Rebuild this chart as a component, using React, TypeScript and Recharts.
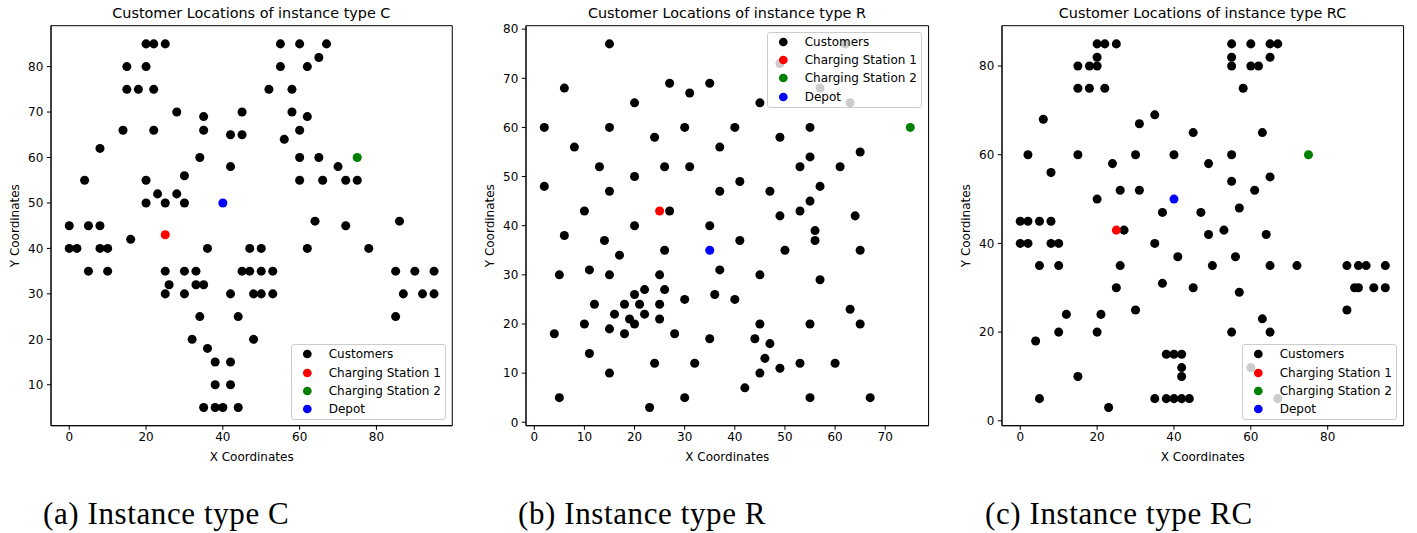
import React from 'react';
import { ScatterChart, Scatter, XAxis, YAxis, ZAxis, ReferenceArea, Legend } from 'recharts';

type Pt = [number, number];

// Customer coordinates, instance type C (clustered)
const typeCCustomers: Pt[] = [
  [20, 85], [22, 85], [25, 85], [15, 80], [20, 80], [15, 75], [18, 75], [22, 75],
  [28, 70], [35, 69], [14, 66], [22, 66], [35, 66], [42, 65], [45, 65], [45, 70],
  [8, 62], [34, 60], [42, 58], [4, 55], [20, 55], [30, 56], [23, 52], [28, 52],
  [20, 50], [25, 50], [30, 50], [0, 45], [5, 45], [8, 45],
  [55, 85], [60, 85], [67, 85], [65, 82], [55, 80], [62, 80], [52, 75], [58, 75],
  [58, 70], [62, 69], [60, 66], [56, 64], [60, 60], [65, 60], [70, 58], [60, 55],
  [66, 55], [72, 55], [75, 55], [64, 46], [72, 45], [86, 46],
  [0, 40], [2, 40], [8, 40], [10, 40], [16, 42], [36, 40], [47, 40], [50, 40],
  [62, 40], [78, 40], [5, 35], [10, 35], [25, 35], [30, 35], [33, 35], [26, 32],
  [33, 32], [35, 32], [25, 30], [30, 30], [42, 30], [34, 25], [44, 25], [32, 20],
  [36, 18], [38, 15], [42, 15], [38, 10], [42, 10], [35, 5], [38, 5], [40, 5],
  [44, 5], [45, 35], [47, 35], [50, 35], [53, 35], [48, 30], [50, 30], [53, 30],
  [48, 20], [85, 35], [90, 35], [95, 35], [87, 30], [92, 30], [95, 30], [85, 25],
];

// Customer coordinates, instance type R (random)
const typeRCustomers: Pt[] = [
  [41, 49], [35, 17], [55, 45], [55, 20], [15, 30], [25, 30], [20, 50], [10, 43],
  [55, 60], [30, 60], [20, 65], [50, 35], [30, 25], [15, 10], [30, 5], [10, 20],
  [5, 30], [20, 40], [15, 60], [45, 65], [45, 20], [45, 10], [55, 5], [65, 35],
  [65, 20], [45, 30], [35, 40], [41, 37], [64, 42], [40, 60], [31, 52], [35, 69],
  [53, 52], [65, 55], [63, 65], [2, 60], [20, 20], [5, 5], [60, 12], [40, 25],
  [42, 7], [24, 12], [23, 3], [11, 14], [6, 38], [2, 48], [8, 56], [13, 52],
  [6, 68], [47, 47], [49, 58], [27, 43], [37, 31], [57, 29], [63, 23], [53, 12],
  [32, 12], [36, 26], [21, 24], [17, 34], [12, 24], [24, 58], [27, 69], [15, 77],
  [62, 77], [49, 73], [67, 5], [56, 39], [37, 47], [37, 56], [57, 68], [47, 16],
  [44, 17], [46, 13], [49, 11], [49, 42], [53, 43], [61, 52], [57, 48], [56, 37],
  [55, 54], [15, 47], [14, 37], [11, 31], [16, 22], [4, 18], [28, 18], [26, 52],
  [26, 35], [31, 67], [15, 19], [22, 22], [18, 24], [26, 27], [25, 24], [22, 27],
  [25, 21], [19, 21], [20, 26], [18, 18],
];

// Customer coordinates, instance type RC (random + clustered)
const typeRCCustomers: Pt[] = [
  [25, 85], [22, 75], [22, 85], [20, 80], [20, 85], [18, 75], [15, 75], [15, 80],
  [10, 35], [10, 40], [8, 40], [8, 45], [5, 35], [5, 45], [2, 40], [0, 40],
  [0, 45], [44, 5], [42, 10], [42, 15], [40, 5], [40, 15], [38, 5], [38, 15],
  [35, 5], [95, 30], [95, 35], [92, 30], [90, 35], [88, 30], [88, 35], [87, 30],
  [85, 25], [85, 35], [67, 85], [65, 85], [65, 82], [62, 80], [60, 80], [60, 85],
  [58, 75], [55, 80], [55, 85], [55, 82], [20, 82], [18, 80], [2, 45], [42, 5],
  [42, 12], [72, 35], [55, 20], [25, 30], [20, 50], [55, 60], [30, 60], [50, 35],
  [30, 25], [15, 10], [10, 20], [15, 60], [45, 65], [65, 35], [65, 20], [45, 30],
  [35, 40], [41, 37], [64, 42], [40, 60], [31, 52], [35, 69], [65, 55], [63, 65],
  [2, 60], [20, 20], [5, 5], [60, 12], [23, 3], [8, 56], [6, 68], [47, 47],
  [49, 58], [27, 43], [37, 31], [57, 29], [63, 23], [21, 24], [12, 24], [24, 58],
  [67, 5], [37, 47], [49, 42], [53, 43], [61, 52], [57, 48], [56, 37], [55, 54],
  [4, 18], [26, 52], [26, 35], [31, 67],
];

// Charging stations and depots
const typeCStation1: Pt[] = [[25, 43]];
const typeCStation2: Pt[] = [[75, 60]];
const typeCDepot: Pt[] = [[40, 50]];
const typeRStation1: Pt[] = [[25, 43]];
const typeRStation2: Pt[] = [[75, 60]];
const typeRDepot: Pt[] = [[35, 35]];
const typeRCStation1: Pt[] = [[25, 43]];
const typeRCStation2: Pt[] = [[75, 60]];
const typeRCDepot: Pt[] = [[40, 50]];

// Tick values
const typeCXTicks = [0, 20, 40, 60, 80];
const typeCYTicks = [10, 20, 30, 40, 50, 60, 70, 80];
const typeRXTicks = [0, 10, 20, 30, 40, 50, 60, 70];
const typeRYTicks = [0, 10, 20, 30, 40, 50, 60, 70, 80];
const typeRCXTicks = [0, 20, 40, 60, 80];
const typeRCYTicks = [0, 20, 40, 60, 80];

const seriesNames = ['Customers', 'Charging Station 1', 'Charging Station 2', 'Depot'];
const seriesColors = ['#000000', '#ff0000', '#008000', '#0000ff'];

const FONT = '"DejaVu Sans", sans-serif';
const Y_AXIS_W = 50;
const PLOT_TOP = 25.7;
const PLOT_H = 400;
const X_AXIS_H = 44;
const RIGHT_PAD = 8;
const LEGEND_W = 155.6;
const LEGEND_H = 76;
const DOT_AREA = 60;

const toRows = (pts: Pt[]) => pts.map(([x, y]) => ({ x, y }));

function LegendBox() {
  return (
    <div
      style={{
        position: 'relative',
        width: LEGEND_W,
        height: LEGEND_H,
        boxSizing: 'border-box',
        background: 'rgba(255,255,255,0.8)',
        border: '1px solid #cccccc',
        borderRadius: 3,
        fontFamily: FONT,
        fontSize: 12,
        color: '#000',
      }}
    >
      {seriesNames.map((name, i) => (
        <div
          key={name}
          style={{
            position: 'absolute',
            left: 0,
            top: 10.2 + i * 18.3 - 9 - 1,
            height: 18,
            width: LEGEND_W - 2,
            display: 'flex',
            alignItems: 'center',
          }}
        >
          <svg width={37} height={18} style={{ flex: 'none' }}>
            <circle cx={15.3} cy={9} r={Math.sqrt(DOT_AREA / Math.PI)} fill={seriesColors[i]} />
          </svg>
          <span style={{ whiteSpace: 'nowrap', lineHeight: '18px' }}>{name}</span>
        </div>
      ))}
    </div>
  );
}

type PanelProps = {
  title: string;
  caption: string;
  customers: Pt[];
  station1: Pt[];
  station2: Pt[];
  depot: Pt[];
  xDomain: [number, number];
  yDomain: [number, number];
  xTicks: number[];
  yTicks: number[];
  plotLeft: number;
  plotWidth: number;
  legendLeft: number;
  legendTop: number;
  captionLeft: number;
};

function Panel(p: PanelProps) {
  const chartLeft = p.plotLeft - Y_AXIS_W;
  const chartW = Y_AXIS_W + p.plotWidth + RIGHT_PAD;
  const chartH = PLOT_TOP + PLOT_H + X_AXIS_H;
  const series = [p.customers, p.station1, p.station2, p.depot];
  return (
    <>
      <div
        style={{
          position: 'absolute',
          left: p.plotLeft,
          top: 5.1,
          width: p.plotWidth,
          textAlign: 'center',
          fontFamily: FONT,
          fontSize: 14.4,
          lineHeight: 'normal',
          color: '#000',
          whiteSpace: 'nowrap',
        }}
      >
        {p.title}
      </div>
      <div style={{ position: 'absolute', left: chartLeft, top: 0, width: chartW, height: chartH, fontFamily: FONT }}>
        <ScatterChart
          width={chartW}
          height={chartH}
          margin={{ top: PLOT_TOP, right: RIGHT_PAD, bottom: 0, left: 0 }}
        >
          <XAxis
            type="number"
            dataKey="x"
            domain={p.xDomain}
            ticks={p.xTicks}
            interval={0}
            allowDataOverflow
            height={X_AXIS_H}
            tickSize={4.2}
            tickMargin={3}
            stroke="#000"
            tick={{ fill: '#000', fontSize: 12 }}
            label={{ value: 'X Coordinates', position: 'insideBottom', offset: 9, fill: '#000', fontSize: 12 }}
          />
          <YAxis
            type="number"
            dataKey="y"
            domain={p.yDomain}
            ticks={p.yTicks}
            interval={0}
            allowDataOverflow
            width={Y_AXIS_W}
            tickSize={4.2}
            tickMargin={3.5}
            stroke="#000"
            tick={{ fill: '#000', fontSize: 12 }}
            label={{
              value: 'Y Coordinates',
              angle: -90,
              position: 'insideLeft',
              offset: 13.5,
              fill: '#000',
              fontSize: 12,
              style: { textAnchor: 'middle' },
            }}
          />
          <ZAxis range={[DOT_AREA, DOT_AREA]} />
          <ReferenceArea
            x1={p.xDomain[0]}
            x2={p.xDomain[1]}
            y1={p.yDomain[0]}
            y2={p.yDomain[1]}
            fill="none"
            fillOpacity={0}
            stroke="#000"
            strokeWidth={1}
            ifOverflow="visible"
          />
          {series.map((pts, i) => (
            <Scatter
              key={seriesNames[i]}
              name={seriesNames[i]}
              data={toRows(pts)}
              fill={seriesColors[i]}
              isAnimationActive={false}
            />
          ))}
          <Legend
            layout="vertical"
            align="center"
            verticalAlign="middle"
            wrapperStyle={{
              left: p.legendLeft - chartLeft,
              top: p.legendTop,
              width: LEGEND_W,
              height: LEGEND_H,
            }}
            content={() => <LegendBox />}
          />
        </ScatterChart>
      </div>
      <div
        style={{
          position: 'absolute',
          left: p.captionLeft,
          top: 496,
          fontFamily: '"Liberation Serif", serif',
          fontSize: 31,
          letterSpacing: 0.6,
          lineHeight: 'normal',
          color: '#000',
          whiteSpace: 'nowrap',
        }}
      >
        {p.caption}
      </div>
    </>
  );
}

export default function App() {
  return (
    <div style={{ position: 'relative', width: 1417, height: 533, background: '#fff', overflow: 'hidden' }}>
      <style>{'body{margin:0;}'}</style>
      <Panel
        title="Customer Locations of instance type C"
        caption="(a) Instance type C"
        customers={typeCCustomers}
        station1={typeCStation1}
        station2={typeCStation2}
        depot={typeCDepot}
        xDomain={[-4.75, 99.75]}
        yDomain={[1, 89]}
        xTicks={typeCXTicks}
        yTicks={typeCYTicks}
        plotLeft={50.7}
        plotWidth={401.3}
        legendLeft={290.7}
        legendTop={344}
        captionLeft={43}
      />
      <Panel
        title="Customer Locations of instance type R"
        caption="(b) Instance type R"
        customers={typeRCustomers}
        station1={typeRStation1}
        station2={typeRStation2}
        depot={typeRDepot}
        xDomain={[-1.65, 78.65]}
        yDomain={[-0.7, 80.7]}
        xTicks={typeRXTicks}
        yTicks={typeRYTicks}
        plotLeft={525.7}
        plotWidth={402.6}
        legendLeft={766.7}
        legendTop={31.7}
        captionLeft={518}
      />
      <Panel
        title="Customer Locations of instance type RC"
        caption="(c) Instance type RC"
        customers={typeRCCustomers}
        station1={typeRCStation1}
        station2={typeRCStation2}
        depot={typeRCDepot}
        xDomain={[-4.75, 99.75]}
        yDomain={[-1.1, 89.1]}
        xTicks={typeRCXTicks}
        yTicks={typeRCYTicks}
        plotLeft={1001.7}
        plotWidth={401.6}
        legendLeft={1241.7}
        legendTop={344}
        captionLeft={985}
      />
    </div>
  );
}
